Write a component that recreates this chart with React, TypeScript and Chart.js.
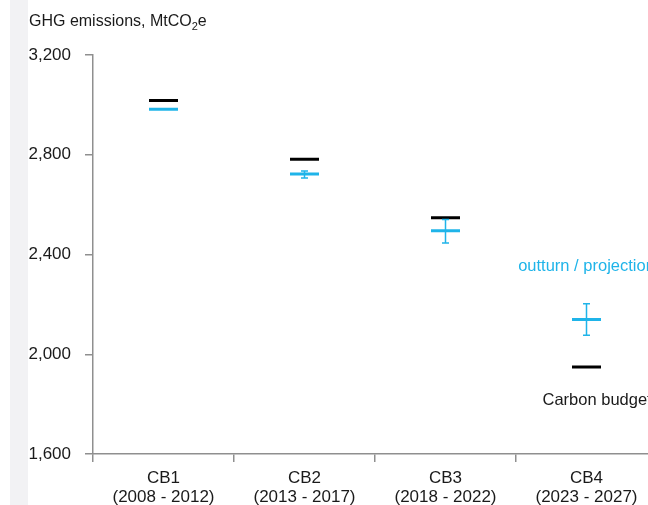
import React, { useEffect, useRef } from 'react';
import { Chart, registerables } from 'chart.js';

Chart.register(...registerables);

const FONT = '"Liberation Sans", Arial, sans-serif';
const BLUE = '#1fb4e9';
const AXIS = '#8f8f8f';
const TEXT = '#1a1a1a';

const categories = ['CB1', 'CB2', 'CB3', 'CB4'];
const periods = ['(2008 - 2012)', '(2013 - 2017)', '(2018 - 2022)', '(2023 - 2027)'];
const budget = [3018, 2782, 2547, 1949];
const outturn = [2982, 2723, 2495, 2139];
const errLow = [null, 2707, 2446, 2076];
const errHigh = [null, 2735, 2540, 2203];
const yTicks = [1600, 2000, 2400, 2800, 3200];

export default function App() {
  const ref = useRef<HTMLCanvasElement>(null);

  useEffect(() => {
    if (!ref.current) return;

    const errorBars = {
      id: 'errorBars',
      afterDatasetsDraw(chart: any) {
        const { ctx } = chart;
        const xs = chart.scales.x;
        const ys = chart.scales.y;
        ctx.save();
        ctx.strokeStyle = BLUE;
        ctx.lineWidth = 1.5;
        for (let i = 0; i < categories.length; i++) {
          const lo = errLow[i];
          const hi = errHigh[i];
          if (lo == null || hi == null) continue;
          const x = xs.getPixelForValue(i);
          const y1 = ys.getPixelForValue(lo);
          const y2 = ys.getPixelForValue(hi);
          ctx.beginPath();
          ctx.moveTo(x, y1);
          ctx.lineTo(x, y2);
          ctx.moveTo(x - 3.5, y1);
          ctx.lineTo(x + 3.5, y1);
          ctx.moveTo(x - 3.5, y2);
          ctx.lineTo(x + 3.5, y2);
          ctx.stroke();
        }
        ctx.restore();
      },
    };

    const annotations = {
      id: 'annotations',
      afterDraw(chart: any) {
        const { ctx } = chart;
        const xs = chart.scales.x;
        const ys = chart.scales.y;
        ctx.save();
        ctx.fillStyle = TEXT;
        ctx.textBaseline = 'alphabetic';
        ctx.textAlign = 'left';
        ctx.font = `16px ${FONT}`;
        const t1 = 'GHG emissions, MtCO';
        let x = 29;
        ctx.fillText(t1, x, 26);
        x += ctx.measureText(t1).width;
        ctx.font = `11px ${FONT}`;
        ctx.fillText('2', x, 30);
        x += ctx.measureText('2').width;
        ctx.font = `16px ${FONT}`;
        ctx.fillText('e', x, 26);

        const last = categories.length - 1;
        const cx = xs.getPixelForValue(last);
        ctx.font = `16.5px ${FONT}`;
        ctx.fillStyle = BLUE;
        ctx.textAlign = 'center';
        ctx.fillText('outturn / projection', cx, ys.getPixelForValue(2334));
        ctx.fillStyle = TEXT;
        ctx.textAlign = 'left';
        ctx.fillText('Carbon budget', cx - 44, ys.getPixelForValue(1796));
        ctx.restore();
      },
    };

    const chart = new Chart(ref.current, {
      type: 'line',
      data: {
        labels: categories.map((c, i) => [c, periods[i]]),
        datasets: [
          {
            label: 'Carbon budget',
            data: budget,
            showLine: false,
            borderColor: '#000',
            backgroundColor: '#000',
            pointStyle: 'line',
            pointRadius: 14.5,
            pointHoverRadius: 14.5,
            pointBorderWidth: 3,
          },
          {
            label: 'outturn / projection',
            data: outturn,
            showLine: false,
            borderColor: BLUE,
            backgroundColor: BLUE,
            pointStyle: 'line',
            pointRadius: 14.5,
            pointHoverRadius: 14.5,
            pointBorderWidth: 3,
          },
        ],
      },
      options: {
        responsive: false,
        animation: false,
        events: [],
        layout: { padding: { top: 55, right: 23, left: 0, bottom: 0 } },
        plugins: {
          legend: { display: false },
          tooltip: { enabled: false },
        },
        scales: {
          x: {
            type: 'category',
            offset: true,
            grid: {
              offset: true,
              drawOnChartArea: false,
              drawTicks: true,
              tickLength: 8,
              color: AXIS,
              lineWidth: 1.5,
            },
            border: { color: AXIS, width: 1.5 },
            ticks: {
              color: TEXT,
              font: { family: FONT, size: 17, lineHeight: 1.1 },
              padding: 7,
              maxRotation: 0,
              autoSkip: false,
            },
            afterFit: (s: any) => {
              s.height = 51;
            },
          },
          y: {
            min: yTicks[0],
            max: yTicks[yTicks.length - 1],
            afterBuildTicks: (s: any) => {
              s.ticks = yTicks.map((v) => ({ value: v }));
            },
            ticks: {
              color: TEXT,
              font: { family: FONT, size: 17 },
              padding: 14,
              callback: (v: any) => Number(v).toLocaleString('en-US'),
            },
            grid: {
              drawOnChartArea: false,
              drawTicks: true,
              tickLength: 8,
              color: AXIS,
              lineWidth: 1.5,
            },
            border: { color: AXIS, width: 1.5 },
            afterFit: (s: any) => {
              s.width = 93;
            },
          },
        },
      },
      plugins: [errorBars, annotations],
    } as any);

    return () => chart.destroy();
  }, []);

  return (
    <div
      style={{
        position: 'fixed',
        left: 0,
        top: 0,
        width: 648,
        height: 505,
        overflow: 'hidden',
        background: '#fff',
      }}
    >
      <div
        style={{
          position: 'absolute',
          left: 10,
          top: 0,
          width: 18,
          height: 505,
          background: '#f2f2f4',
        }}
      />
      <canvas
        ref={ref}
        width={680}
        height={505}
        style={{ position: 'absolute', left: 0, top: 0 }}
      />
    </div>
  );
}
